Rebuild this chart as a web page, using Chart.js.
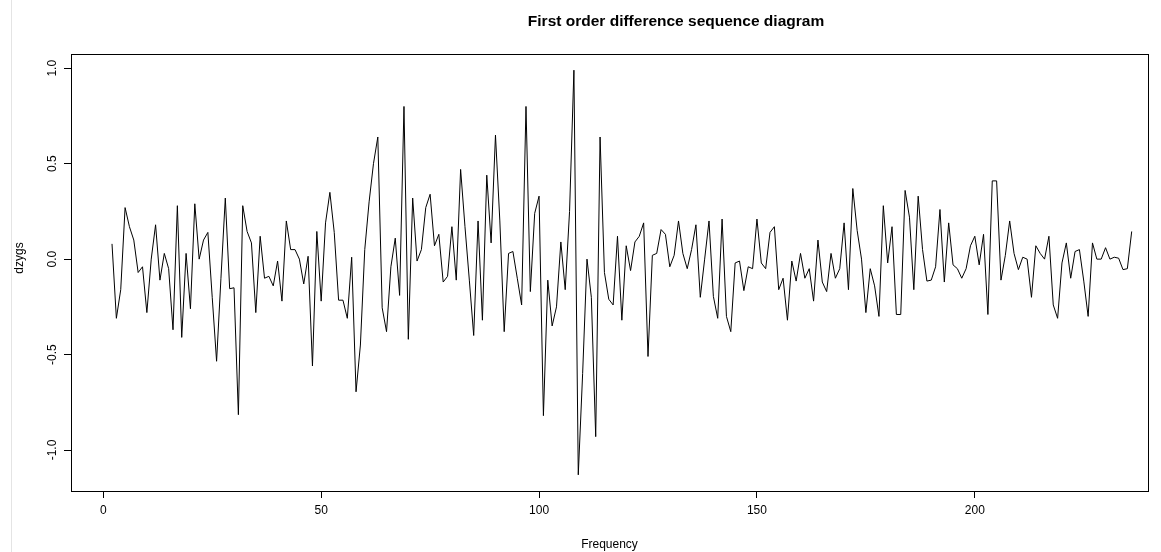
<!DOCTYPE html>
<html>
<head>
<meta charset="utf-8">
<title>First order difference sequence diagram</title>
<script src="https://cdn.jsdelivr.net/npm/chart.js@4.4.1/dist/chart.umd.min.js"></script>
<style>
  html, body { margin: 0; padding: 0; background: #fff; }
  #wrap { position: relative; width: 1161px; height: 552px; }
  #wrap .edge { position: absolute; left: 11px; top: 0; width: 1px; height: 552px; background: #e4e4e4; }
</style>
</head>
<body>
<div id="wrap"><div class="edge"></div><canvas id="diffChart" width="1161" height="552"></canvas></div>
<script>
// first differenced series, one value per step starting at startFreq
const startFreq = 2;
const dzygs = [
  0.08, -0.31, -0.16, 0.27, 0.17, 0.10, -0.07, -0.04, -0.28, 0.0,
  0.18, -0.11, 0.03, -0.05, -0.37, 0.28, -0.41, 0.03, -0.26, 0.29,
  0.0, 0.10, 0.14, -0.2, -0.535, -0.1, 0.32, -0.155, -0.15, -0.815,
  0.28, 0.145, 0.085, -0.28, 0.12, -0.10, -0.09, -0.14, -0.01, -0.22,
  0.20, 0.05, 0.05, 0.0, -0.13, 0.015, -0.56, 0.145, -0.22, 0.19,
  0.35, 0.14, -0.215, -0.215, -0.31, 0.01, -0.695, -0.45, 0.05, 0.3,
  0.5, 0.64, -0.255, -0.38, -0.04, 0.11, -0.19, 0.80, -0.42, 0.32,
  -0.01, 0.05, 0.27, 0.34, 0.07, 0.13, -0.12, -0.09, 0.17, -0.11,
  0.47, 0.17, -0.11, -0.40, 0.20, -0.32, 0.44, 0.085, 0.65, 0.2,
  -0.38, 0.03, 0.04, -0.1, -0.24, 0.80, -0.17, 0.24, 0.33, -0.82,
  -0.11, -0.35, -0.25, 0.09, -0.16, 0.25, 0.99, -1.13, -0.6, 0.0,
  -0.2, -0.93, 0.64, -0.07, -0.21, -0.24, 0.12, -0.32, 0.07, -0.06,
  0.09, 0.12, 0.19, -0.51, 0.02, 0.03, 0.155, 0.13, -0.04, 0.02,
  0.2, 0.03, -0.05, 0.05, 0.18, -0.2, 0.0, 0.2, -0.195, -0.31,
  0.21, -0.3, -0.38, -0.02, -0.01, -0.165, -0.04, -0.05, 0.21, -0.02,
  -0.05, 0.14, 0.17, -0.16, -0.1, -0.32, -0.01, -0.115, 0.03, -0.1,
  -0.05, -0.22, 0.1, -0.12, -0.17, 0.03, -0.1, -0.05, 0.19, -0.16,
  0.37, 0.15, 0.0, -0.28, -0.05, -0.14, -0.3, 0.28, -0.02, 0.17,
  -0.29, -0.29, 0.36, 0.22, -0.16, 0.33, 0.05, -0.115, -0.11, -0.04,
  0.26, -0.12, 0.19, -0.03, -0.05, -0.1, -0.05, 0.07, 0.12, -0.03,
  0.13, -0.29, 0.41, 0.41, -0.11, 0.02, 0.2, 0.03, -0.055, 0.01,
  0.0, -0.2, 0.07, 0.03, 0.0, 0.12, -0.24, -0.31, -0.02, 0.085,
  -0.1, 0.04, 0.05, -0.115, -0.3, 0.085, 0.0, 0.0, 0.06, 0.0,
  0.01, 0.005, -0.055, -0.05, 0.145
];

const xTicks = [0, 50, 100, 150, 200];
const yTicks = [-1.0, -0.5, 0.0, 0.5, 1.0];

const points = dzygs.map((v, i) => ({ x: startFreq + i, y: v }));

const FONT = "'Liberation Sans', Arial, Helvetica, sans-serif";

// R-style box around the plotting region
const boxPlugin = {
  id: "plotBox",
  afterDraw(chart) {
    const { ctx, chartArea: a } = chart;
    ctx.save();
    ctx.strokeStyle = "#000";
    ctx.lineWidth = 1;
    ctx.strokeRect(Math.round(a.left) + 0.5, Math.round(a.top) + 0.5,
      Math.round(a.right - a.left), Math.round(a.bottom - a.top));
    ctx.restore();
  },
};

// free-placed labels: main title and the y axis name
const labelsPlugin = {
  id: "freeLabels",
  afterDraw(chart, args, opts) {
    const { ctx } = chart;
    opts.items.forEach((it) => {
      ctx.save();
      ctx.fillStyle = "#000";
      ctx.font = (it.bold ? "bold " : "") + it.size + "px " + FONT;
      ctx.textAlign = "center";
      ctx.textBaseline = "middle";
      ctx.translate(it.x, it.y);
      ctx.rotate(it.rotate || 0);
      ctx.fillText(it.text, 0, 0);
      ctx.restore();
    });
  },
};

const ctx = document.getElementById("diffChart").getContext("2d");

new Chart(ctx, {
  type: "line",
  data: {
    datasets: [
      {
        label: "dzygs",
        data: points,
        borderColor: "#000",
        borderWidth: 1,
        pointRadius: 0,
        tension: 0,
        fill: false,
      },
    ],
  },
  options: {
    responsive: false,
    animation: false,
    layout: { padding: { left: 0, right: 13, top: 54, bottom: 0 } },
    plugins: {
      legend: { display: false },
      tooltip: { enabled: false },
      title: { display: false },
      freeLabels: {
        items: [
          { text: "First order difference sequence diagram", x: 676, y: 22, size: 15.5, bold: true },
          { text: "dzygs", x: 20, y: 258, size: 12, rotate: -Math.PI / 2 },
        ],
      },
    },
    scales: {
      x: {
        type: "linear",
        min: -7.41,
        max: 239.74,
        afterBuildTicks: (s) => { s.ticks = xTicks.map((v) => ({ value: v })); },
        afterFit: (s) => { s.height = 61; },
        grid: { drawOnChartArea: false, drawTicks: true, tickLength: 7, tickColor: "#000" },
        border: { display: true, color: "#000" },
        ticks: {
          color: "#000",
          font: { family: FONT, size: 12 },
          padding: 5,
          maxRotation: 0,
          autoSkip: false,
        },
        title: {
          display: true,
          text: "Frequency",
          color: "#000",
          font: { family: FONT, size: 12 },
          padding: { top: 0, bottom: 0 },
        },
      },
      y: {
        type: "linear",
        min: -1.2148,
        max: 1.0748,
        afterBuildTicks: (s) => { s.ticks = yTicks.map((v) => ({ value: v })); },
        afterFit: (s) => { s.width = 71; },
        grid: { drawOnChartArea: false, drawTicks: true, tickLength: 7, tickColor: "#000" },
        border: { display: true, color: "#000" },
        ticks: {
          color: "#000",
          font: { family: FONT, size: 12 },
          minRotation: 90,
          maxRotation: 90,
          crossAlign: "center",
          padding: 1,
          autoSkip: false,
          callback: (v) => v.toFixed(1),
        },
        title: { display: false },
      },
    },
  },
  plugins: [boxPlugin, labelsPlugin],
});
</script>
</body>
</html>
